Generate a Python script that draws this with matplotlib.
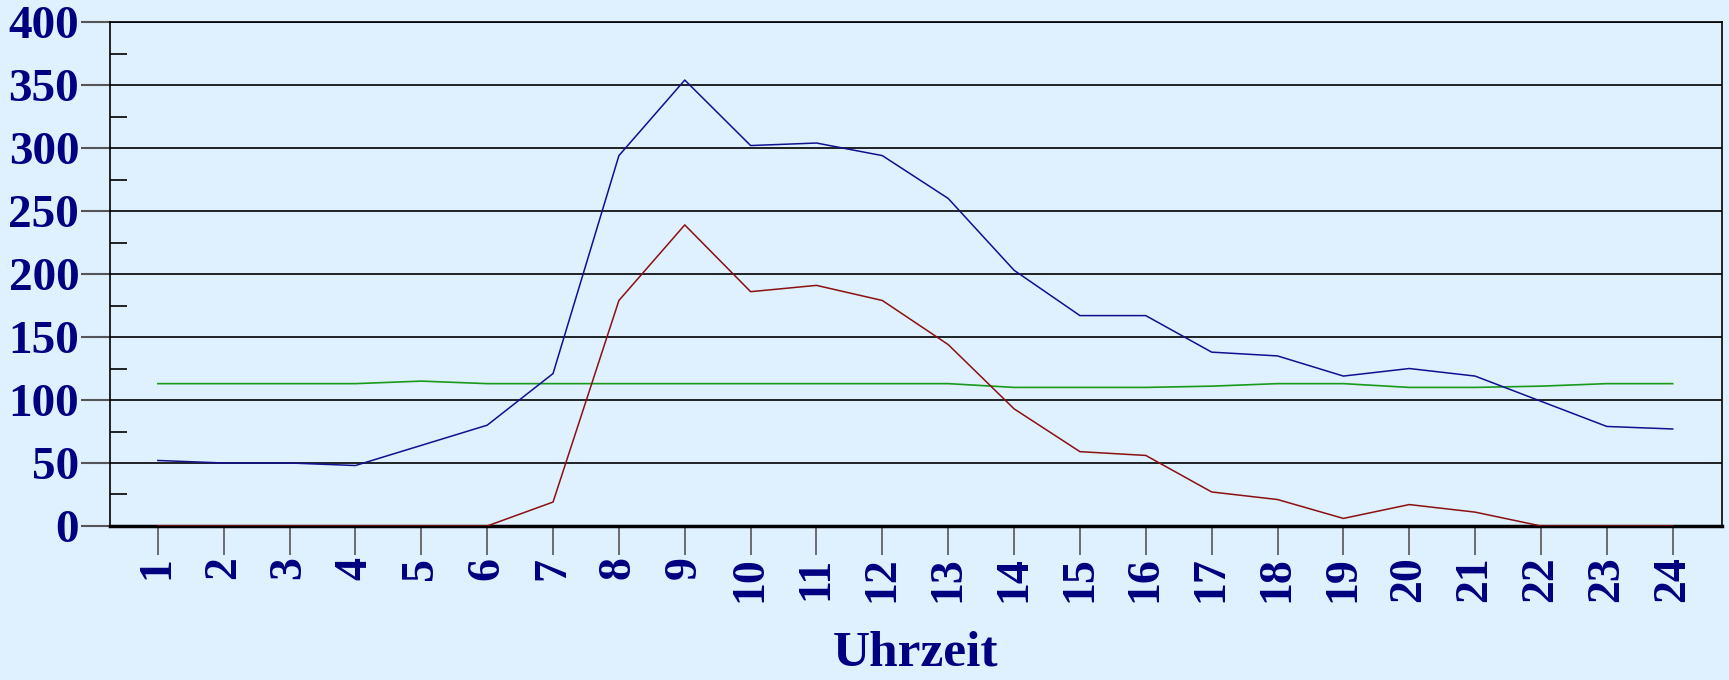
import matplotlib
matplotlib.use("Agg")
import matplotlib.pyplot as plt
from matplotlib.ticker import MultipleLocator

hours = list(range(1, 25))
blue_vals = [52, 50, 50, 48, 64, 80, 121, 294, 354, 302, 304, 294,
             260, 203, 167, 167, 138, 135, 119, 125, 119, 99, 79, 77]
red_vals = [0, 0, 0, 0, 0, 0, 19, 179, 239, 186, 191, 179,
            144, 93, 59, 56, 27, 21, 6, 17, 11, 0, 0, 0]
green_vals = [113, 113, 113, 113, 115, 113, 113, 113, 113, 113, 113, 113,
              113, 110, 110, 110, 111, 113, 113, 110, 110, 111, 113, 113]
y_ticks = [0, 50, 100, 150, 200, 250, 300, 350, 400]

bg = "#dff0ff"
navy = "#000080"

fig = plt.figure(figsize=(17.29, 6.80), dpi=100, facecolor=bg)
ax = fig.add_axes([0.0635, 0.2265, 0.9325, 0.741])
ax.set_facecolor(bg)

for y in y_ticks[1:]:
    ax.axhline(y, color="black", lw=1.2, zorder=1)

ax.plot(hours, green_vals, color="#1a9a1a", lw=1.2, zorder=3)
ax.plot(hours, red_vals, color="#8b1010", lw=1.1, zorder=3)
ax.plot(hours, blue_vals, color="#10108f", lw=1.1, zorder=3)

ax.set_xlim(0.27, 24.75)
ax.set_ylim(0, 400)
ax.set_xticks(hours)
ax.set_xticklabels([str(h) for h in hours])
ax.set_yticks(y_ticks)
ax.yaxis.set_minor_locator(MultipleLocator(25))

font = dict(family="Liberation Serif", weight="bold", color=navy)
for lab in ax.get_yticklabels():
    lab.set(fontsize=34, **font)
for lab in ax.get_xticklabels():
    lab.set(fontsize=33, rotation=90, **font)

ax.tick_params(axis="y", which="major", direction="out", length=21, width=1.5,
               color="#555555", pad=1)
ax.tick_params(axis="y", which="minor", direction="in", length=12, width=1.2,
               color="black")
ax.tick_params(axis="x", which="major", direction="out", length=21, width=1.2,
               color="#555555", pad=1)

for s in ["left", "right", "top"]:
    ax.spines[s].set_color("black")
    ax.spines[s].set_linewidth(1.2)
ax.spines["bottom"].set_color("black")
ax.spines["bottom"].set_linewidth(2.5)

ax.set_xlabel("Uhrzeit", fontsize=37, labelpad=20, **font)

fig.savefig("out.png", dpi=100, facecolor=bg)
